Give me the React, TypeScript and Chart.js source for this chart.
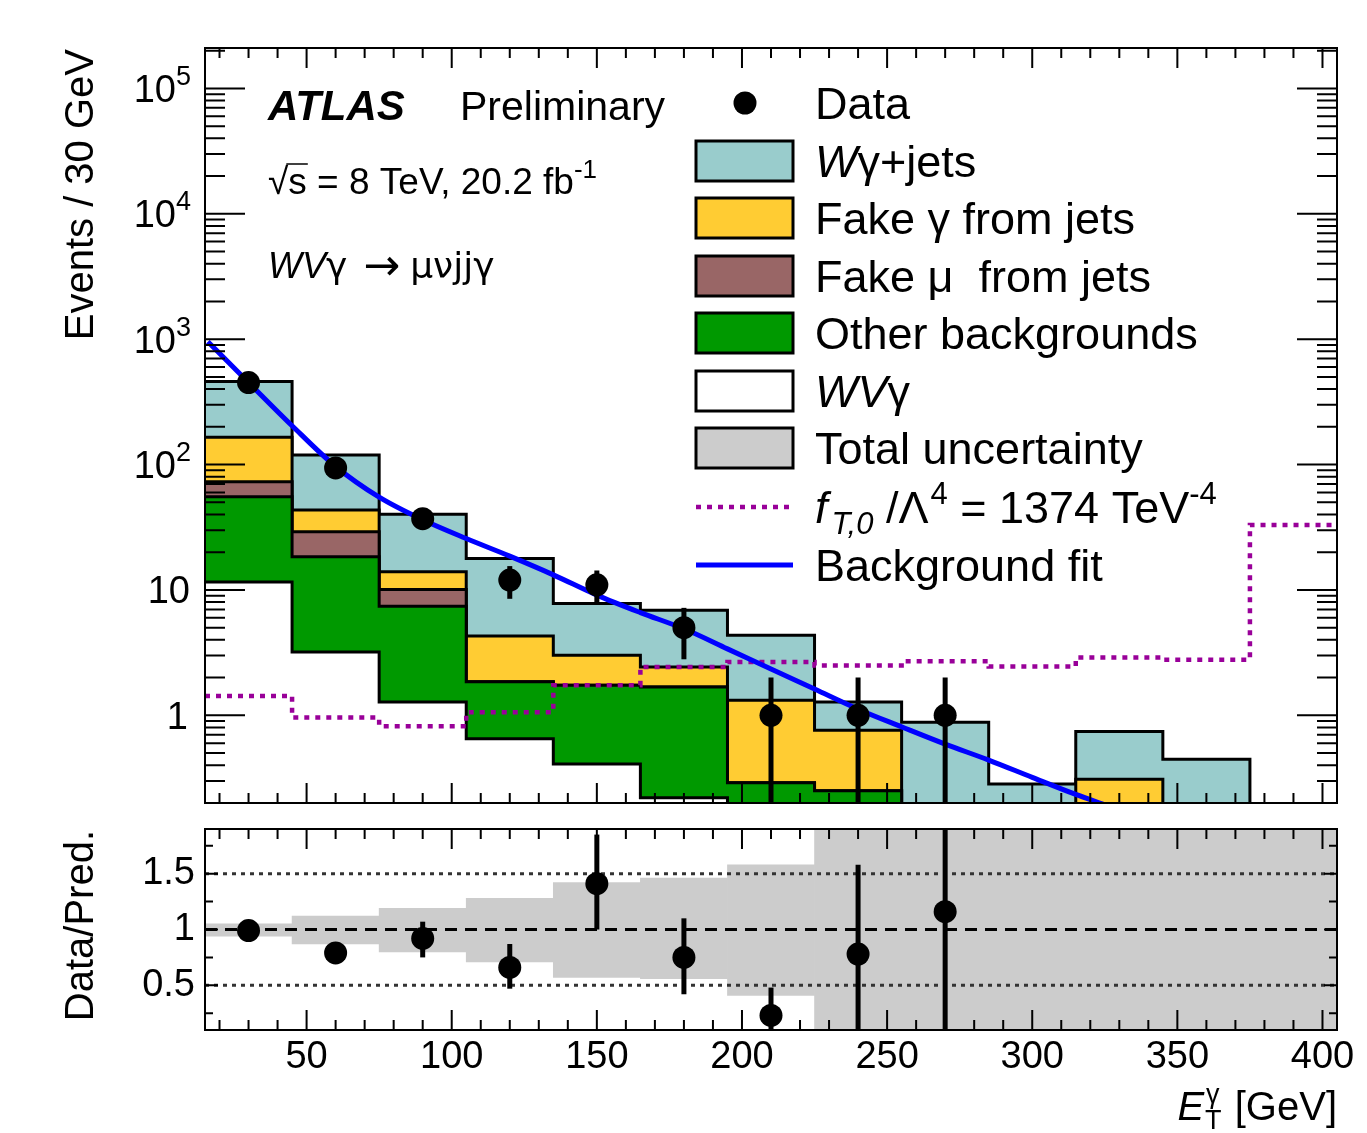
import React, { useEffect, useRef } from "react";
import { Chart, registerables } from "chart.js";

Chart.register(...registerables);

const FONT = '"Liberation Sans", Arial, Helvetica, sans-serif';
const SYM = '"DejaVu Sans", "Liberation Sans", sans-serif';

// ---------------- data ----------------
const binEdges = [15, 45, 75, 105, 135, 165, 195, 225, 255, 285, 315, 345, 375, 405];
const wvgammaSM = [11.6, 3.2, 1.28, 0.65, 0.41, 0.22, 0.1, 0.08, 0.05, 0.03, 0.02, 0.01, 0];
const otherBkg = [43.8, 15.2, 6.15, 1.2, 1.33, 1.46, 0.19, 0.17, 0.1, 0.05, 0.05, 0.03, 0];
const fakeMuJets = [17.6, 10.7, 2.67, 0, 0, 0, 0, 0, 0, 0, 0, 0, 0];
const fakeGammaJets = [92, 14.3, 3.9, 2.45, 1.27, 0.75, 1.03, 0.51, 0.03, 0.05, 0.24, 0.05, 0];
const wgammaJets = [294, 75.6, 26.1, 13.5, 4.8, 4.47, 3.04, 0.52, 0.7, 0.154, 0.435, 0.356, 0];
const aqgcFT0 = [1.43, 0.96, 0.82, 1.06, 1.74, 2.43, 2.67, 2.5, 2.7, 2.45, 2.89, 2.78, 33];

const dataEt = [30, 60, 90, 120, 150, 180, 210, 240, 270];
const dataEvents = [451, 94, 37, 12, 11, 5, 1, 1, 1];
const dataErr = [21.2, 9.7, 6.1, 3.5, 3.3, 2.2, 1, 1, 1];

const fitEt = [16, 30, 45, 60, 75, 90, 105, 120, 135, 150, 165, 180, 195, 210, 225, 240, 255, 270, 285, 300, 315, 327];
const fitEvents = [955, 452, 204, 96.6, 55, 36.3, 25.7, 18.6, 13.2, 9.1, 6.6, 4.9, 3.39, 2.34, 1.62, 1.12, 0.81, 0.59, 0.44, 0.32, 0.234, 0.186];

const ratioVal = [0.99, 0.79, 0.92, 0.66, 1.41, 0.75, 0.23, 0.78, 1.16];
const ratioErrUp = [0.05, 0.08, 0.15, 0.21, 0.44, 0.35, 0.25, 0.8, 1.16];
const ratioErrDown = [0.05, 0.08, 0.17, 0.19, 0.41, 0.33, 0.23, 0.78, 1.16];
const uncHigh = [1.05, 1.12, 1.19, 1.28, 1.42, 1.46, 1.58, 2, 2, 2, 2, 2, 2];
const uncLow = [0.94, 0.87, 0.8, 0.71, 0.57, 0.56, 0.41, 0, 0, 0, 0, 0, 0];

const xTickLabels = [50, 100, 150, 200, 250, 300, 350, 400];
const yDecadeExps = [0, 1, 2, 3, 4, 5];
const ratioTickLabels = [0.5, 1, 1.5];

const COLORS = {
  wgamma: "#99cccc",
  fakeGamma: "#ffcc33",
  fakeMu: "#996666",
  other: "#009900",
  wvgamma: "#ffffff",
  unc: "#cccccc",
  aqgc: "#990099",
  fit: "#0000ff",
};

// ---------------- helpers ----------------
function cumulative(...layers: number[][]) {
  return layers[0].map((_, i) => layers.reduce((s, l) => s + l[i], 0));
}
// points at lower bin edges plus the last upper edge; with stepped "before"
// the horizontal segment [edge_i, edge_i+1] is drawn at bin i's value
function stepPoints(values: number[]) {
  const pts = values.map((v, i) => ({ x: binEdges[i], y: Math.max(v, 1e-3) }));
  pts.push({ x: binEdges[binEdges.length - 1], y: Math.max(values[values.length - 1], 1e-3) });
  return pts;
}
function binCenters() {
  return binEdges.slice(0, -1).map((e, i) => (e + binEdges[i + 1]) / 2);
}

type Part = { t: string; size: number; style?: string; family?: string; dy?: number; dx?: number; noAdvance?: boolean };
function fontOf(p: Part) {
  return `${p.style ?? ""} ${p.size}px ${p.family ?? FONT}`.trim();
}
function drawRich(ctx: CanvasRenderingContext2D, x: number, y: number, parts: Part[], align: "left" | "right" = "left") {
  ctx.textBaseline = "alphabetic";
  ctx.textAlign = "left";
  const widths = parts.map((p) => {
    ctx.font = fontOf(p);
    return ctx.measureText(p.t).width;
  });
  const total = parts.reduce((s, p, i) => s + (p.dx ?? 0) + (p.noAdvance ? 0 : widths[i]), 0);
  let cx = align === "right" ? x - total : x;
  parts.forEach((p, i) => {
    cx += p.dx ?? 0;
    ctx.font = fontOf(p);
    ctx.fillText(p.t, cx, y + (p.dy ?? 0));
    if (!p.noAdvance) cx += widths[i];
  });
  return cx;
}
function clipArea(ctx: CanvasRenderingContext2D, a: any) {
  ctx.beginPath();
  ctx.rect(a.left, a.top, a.right - a.left, a.bottom - a.top);
  ctx.clip();
}
function drawXTicks(ctx: CanvasRenderingContext2D, xs: any, a: any) {
  for (let v = 20; v <= 400; v += 10) {
    const px = xs.getPixelForValue(v);
    const len = v % 50 === 0 ? 20 : 10;
    ctx.moveTo(px, a.bottom);
    ctx.lineTo(px, a.bottom - len);
    ctx.moveTo(px, a.top);
    ctx.lineTo(px, a.top + len);
  }
}

// ---------------- top panel plugin ----------------
const topPlugin = {
  id: "topDecor",
  afterDatasetsDraw(chart: any) {
    const { ctx, chartArea: a } = chart;
    const xs = chart.scales.x;
    const ys = chart.scales.y;
    ctx.save();
    // error bars
    ctx.save();
    clipArea(ctx, a);
    ctx.strokeStyle = "#000";
    ctx.lineWidth = 5;
    dataEt.forEach((xv, i) => {
      const px = xs.getPixelForValue(xv);
      const lo = dataEvents[i] - dataErr[i];
      const y1 = ys.getPixelForValue(dataEvents[i] + dataErr[i]);
      const y2 = lo > 0 ? ys.getPixelForValue(lo) : a.bottom + 5;
      ctx.beginPath();
      ctx.moveTo(px, y1);
      ctx.lineTo(px, y2);
      ctx.stroke();
    });
    ctx.restore();

    // ticks
    ctx.strokeStyle = "#000";
    ctx.lineWidth = 2;
    ctx.beginPath();
    for (let e = -1; e <= 5; e++) {
      for (let m = 1; m <= 9; m++) {
        const v = m * Math.pow(10, e);
        if (v < ys.min || v > ys.max) continue;
        const py = ys.getPixelForValue(v);
        const len = m === 1 ? 40 : 20;
        ctx.moveTo(a.left, py);
        ctx.lineTo(a.left + len, py);
        ctx.moveTo(a.right, py);
        ctx.lineTo(a.right - len, py);
      }
    }
    drawXTicks(ctx, xs, a);
    ctx.stroke();
    ctx.lineWidth = 2;
    ctx.strokeRect(a.left, a.top, a.right - a.left, a.bottom - a.top);

    // y tick labels
    ctx.fillStyle = "#000";
    yDecadeExps.forEach((k) => {
      const py = ys.getPixelForValue(Math.pow(10, k));
      if (k === 0) drawRich(ctx, 188, py + 13.5, [{ t: "1", size: 38 }], "right");
      else if (k === 1) drawRich(ctx, 190, py + 13.5, [{ t: "10", size: 38 }], "right");
      else drawRich(ctx, 191, py + 13.5, [{ t: "10", size: 38 }, { t: String(k), size: 27, dy: -17 }], "right");
    });

    // y title
    ctx.save();
    ctx.translate(93, a.top + 1);
    ctx.rotate(-Math.PI / 2);
    ctx.font = `40px ${FONT}`;
    ctx.textAlign = "right";
    ctx.textBaseline = "alphabetic";
    ctx.fillText("Events / 30 GeV", 0, 0);
    ctx.restore();

    // ATLAS labels
    drawRich(ctx, 268, 120, [{ t: "ATLAS", size: 42, style: "italic bold" }]);
    drawRich(ctx, 460, 120, [{ t: "Preliminary", size: 41 }]);
    ctx.font = `37px ${FONT}`;
    const wRoot = ctx.measureText("√").width;
    const wS = ctx.measureText("s").width;
    drawRich(ctx, 268, 194, [
      { t: "√", size: 37 },
      { t: "s = 8 TeV, 20.2 fb", size: 37 },
      { t: "-1", size: 26, dy: -16 },
    ]);
    ctx.beginPath();
    ctx.lineWidth = 1.5;
    ctx.moveTo(268 + wRoot - 2, 194 - 30);
    ctx.lineTo(268 + wRoot + wS + 1, 194 - 30);
    ctx.stroke();
    drawRich(ctx, 268, 278, [
      { t: "WV", size: 36, style: "italic" },
      { t: "γ", size: 36, family: SYM },
      { t: "→", size: 44, family: SYM, dx: 16, dy: 2 },
      { t: "μνjjγ", size: 36, family: SYM, dx: 10 },
    ]);

    // legend
    const LX = 696, LW = 97, LH = 40, TX = 815, FS = 45;
    ctx.beginPath();
    ctx.arc(745, 103, 11.5, 0, Math.PI * 2);
    ctx.fill();
    drawRich(ctx, TX, 103 + 16, [{ t: "Data", size: FS }]);
    const boxes: { c: number; color: string; parts: Part[] }[] = [
      { c: 161, color: COLORS.wgamma, parts: [{ t: "W", size: FS, style: "italic" }, { t: "γ+jets", size: FS }] },
      { c: 218, color: COLORS.fakeGamma, parts: [{ t: "Fake γ from jets", size: FS }] },
      { c: 276, color: COLORS.fakeMu, parts: [{ t: "Fake μ  from jets", size: FS }] },
      { c: 333, color: COLORS.other, parts: [{ t: "Other backgrounds", size: FS }] },
      { c: 391, color: COLORS.wvgamma, parts: [{ t: "WV", size: FS, style: "italic" }, { t: "γ", size: FS }] },
      { c: 448, color: COLORS.unc, parts: [{ t: "Total uncertainty", size: FS }] },
    ];
    boxes.forEach((b) => {
      ctx.fillStyle = b.color;
      ctx.fillRect(LX, b.c - LH / 2, LW, LH);
      ctx.strokeStyle = "#000";
      ctx.lineWidth = 3;
      ctx.strokeRect(LX, b.c - LH / 2, LW, LH);
      ctx.fillStyle = "#000";
      drawRich(ctx, TX, b.c + 16, b.parts);
    });
    // dotted aqgc
    ctx.save();
    ctx.strokeStyle = COLORS.aqgc;
    ctx.lineWidth = 4.5;
    ctx.setLineDash([5, 6]);
    ctx.beginPath();
    ctx.moveTo(LX, 507);
    ctx.lineTo(LX + LW, 507);
    ctx.stroke();
    ctx.restore();
    drawRich(ctx, TX, 507 + 16, [
      { t: "f", size: FS, style: "italic" },
      { t: "T,0", size: 31, style: "italic", dy: 11, dx: 4 },
      { t: " /Λ", size: FS },
      { t: "4", size: 31, dy: -19, dx: 2 },
      { t: " = 1374 TeV", size: FS },
      { t: "-4", size: 31, dy: -19 },
    ]);
    // fit line
    ctx.strokeStyle = COLORS.fit;
    ctx.lineWidth = 5;
    ctx.beginPath();
    ctx.moveTo(LX, 565);
    ctx.lineTo(LX + LW, 565);
    ctx.stroke();
    drawRich(ctx, TX, 565 + 16, [{ t: "Background fit", size: FS }]);
    ctx.restore();
  },
};

// ---------------- ratio panel plugin ----------------
const bottomPlugin = {
  id: "ratioDecor",
  afterDatasetsDraw(chart: any) {
    const { ctx, chartArea: a } = chart;
    const xs = chart.scales.x;
    const ys = chart.scales.y;
    ctx.save();
    ctx.save();
    clipArea(ctx, a);
    ctx.strokeStyle = "#000";
    ctx.lineWidth = 5;
    dataEt.forEach((xv, i) => {
      const px = xs.getPixelForValue(xv);
      ctx.beginPath();
      ctx.moveTo(px, ys.getPixelForValue(ratioVal[i] + ratioErrUp[i]));
      ctx.lineTo(px, ys.getPixelForValue(ratioVal[i] - ratioErrDown[i]));
      ctx.stroke();
    });
    ctx.restore();

    ctx.strokeStyle = "#000";
    ctx.lineWidth = 2;
    ctx.beginPath();
    for (let q = 1; q <= 7; q++) {
      const v = q * 0.25;
      const py = ys.getPixelForValue(v);
      const len = q % 2 === 0 ? 13 : 8;
      ctx.moveTo(a.left, py);
      ctx.lineTo(a.left + len, py);
      ctx.moveTo(a.right, py);
      ctx.lineTo(a.right - len, py);
    }
    drawXTicks(ctx, xs, a);
    ctx.stroke();
    ctx.strokeRect(a.left, a.top, a.right - a.left, a.bottom - a.top);

    ctx.fillStyle = "#000";
    ctx.save();
    ctx.translate(93, a.top + 1);
    ctx.rotate(-Math.PI / 2);
    ctx.font = `40px ${FONT}`;
    ctx.textAlign = "right";
    ctx.textBaseline = "alphabetic";
    ctx.fillText("Data/Pred.", 0, 0);
    ctx.restore();

    drawRich(
      ctx,
      a.right,
      1120,
      [
        { t: "E", size: 40, style: "italic" },
        { t: "T", size: 27, dy: 9, dx: 1, noAdvance: true },
        { t: "γ", size: 27, dy: -17, dx: 1 },
        { t: " [GeV]", size: 40, dx: 4 },
      ],
      "right"
    );
    ctx.restore();
  },
};

function histDs(label: string, vals: number[], color: string, order: number) {
  return {
    type: "line",
    label,
    data: stepPoints(vals),
    stepped: "before",
    fill: "start",
    backgroundColor: color,
    borderColor: "#000",
    borderWidth: 3,
    borderJoinStyle: "miter",
    pointRadius: 0,
    order,
  };
}

export default function App() {
  const topRef = useRef<HTMLCanvasElement>(null);
  const botRef = useRef<HTMLCanvasElement>(null);

  useEffect(() => {
    document.body.style.margin = "0";
    document.body.style.overflow = "hidden";

    const cumWV = wvgammaSM;
    const cumOther = cumulative(wvgammaSM, otherBkg);
    const cumMu = cumulative(wvgammaSM, otherBkg, fakeMuJets);
    const cumGam = cumulative(wvgammaSM, otherBkg, fakeMuJets, fakeGammaJets);
    const cumTot = cumulative(wvgammaSM, otherBkg, fakeMuJets, fakeGammaJets, wgammaJets);

    const top = new Chart(topRef.current as HTMLCanvasElement, {
      type: "line",
      data: {
        datasets: [
          histDs("Wγ+jets", cumTot, COLORS.wgamma, 10),
          histDs("Fake γ from jets", cumGam, COLORS.fakeGamma, 9),
          histDs("Fake μ from jets", cumMu, COLORS.fakeMu, 8),
          histDs("Other backgrounds", cumOther, COLORS.other, 7),
          histDs("WVγ", cumWV, COLORS.wvgamma, 6),
          {
            type: "line",
            label: "fT0",
            data: stepPoints(aqgcFT0),
            stepped: "before",
            fill: false,
            borderColor: COLORS.aqgc,
            borderWidth: 4.5,
            borderDash: [5, 6],
            pointRadius: 0,
            order: 5,
          },
          {
            type: "line",
            label: "Background fit",
            data: fitEt.map((x, i) => ({ x, y: fitEvents[i] })),
            borderColor: COLORS.fit,
            borderWidth: 5,
            cubicInterpolationMode: "monotone",
            fill: false,
            pointRadius: 0,
            order: 4,
          },
          {
            type: "line",
            label: "Data",
            data: dataEt.map((x, i) => ({ x, y: dataEvents[i] })),
            showLine: false,
            pointRadius: 11.5,
            pointBackgroundColor: "#000",
            pointBorderWidth: 0,
            order: 1,
          },
        ] as any,
      },
      options: {
        responsive: false,
        animation: false,
        devicePixelRatio: 1,
        events: [],
        layout: { padding: { top: 48, right: 30, left: 0, bottom: 0 } },
        plugins: { legend: { display: false }, tooltip: { enabled: false } },
        scales: {
          x: {
            type: "linear",
            min: binEdges[0],
            max: binEdges[binEdges.length - 1],
            offset: false,
            grid: { display: false, drawTicks: false },
            border: { display: false },
            ticks: { display: false },
            afterFit: (s: any) => {
              s.height = 1133 - 803;
            },
          },
          y: {
            type: "logarithmic",
            min: 0.2,
            max: 2.1e5,
            grid: { display: false, drawTicks: false },
            border: { display: false },
            ticks: { display: false },
            afterFit: (s: any) => {
              s.width = 205;
            },
          },
        },
      } as any,
      plugins: [topPlugin],
    });

    const centers = binCenters();
    const bot = new Chart(botRef.current as HTMLCanvasElement, {
      type: "line",
      data: {
        datasets: [
          {
            type: "bar",
            label: "Total uncertainty",
            data: centers.map((x, i) => ({ x, y: [uncLow[i], uncHigh[i]] })),
            backgroundColor: COLORS.unc,
            borderWidth: 0,
            barPercentage: 1,
            categoryPercentage: 1,
            grouped: false,
            clip: 0,
            order: 5,
          },
          {
            type: "line",
            label: "1.5",
            data: [{ x: binEdges[0], y: 1.5 }, { x: binEdges[binEdges.length - 1], y: 1.5 }],
            borderColor: "#333",
            borderWidth: 3,
            borderDash: [4, 5],
            pointRadius: 0,
            fill: false,
            order: 4,
          },
          {
            type: "line",
            label: "0.5",
            data: [{ x: binEdges[0], y: 0.5 }, { x: binEdges[binEdges.length - 1], y: 0.5 }],
            borderColor: "#333",
            borderWidth: 3,
            borderDash: [4, 5],
            pointRadius: 0,
            fill: false,
            order: 4,
          },
          {
            type: "line",
            label: "1",
            data: [{ x: binEdges[0], y: 1 }, { x: binEdges[binEdges.length - 1], y: 1 }],
            borderColor: "#000",
            borderWidth: 3,
            borderDash: [12, 8],
            pointRadius: 0,
            fill: false,
            order: 3,
          },
          {
            type: "line",
            label: "Data/Pred.",
            data: dataEt.map((x, i) => ({ x, y: ratioVal[i] })),
            showLine: false,
            pointRadius: 11.5,
            pointBackgroundColor: "#000",
            pointBorderWidth: 0,
            order: 1,
          },
        ] as any,
      },
      options: {
        responsive: false,
        animation: false,
        devicePixelRatio: 1,
        events: [],
        layout: { padding: { top: 829, right: 30, left: 0, bottom: 0 } },
        plugins: { legend: { display: false }, tooltip: { enabled: false } },
        scales: {
          x: {
            type: "linear",
            min: binEdges[0],
            max: binEdges[binEdges.length - 1],
            offset: false,
            grid: { display: false, drawTicks: false },
            border: { display: false },
            afterBuildTicks: (s: any) => {
              s.ticks = xTickLabels.map((v) => ({ value: v }));
            },
            ticks: {
              autoSkip: false,
              maxRotation: 0,
              minRotation: 0,
              padding: 5,
              color: "#000",
              font: { family: FONT, size: 38 },
              callback: (v: any) => String(v),
            },
            afterFit: (s: any) => {
              s.height = 1133 - 1030;
            },
          },
          y: {
            type: "linear",
            min: 0.1,
            max: 1.9,
            grid: { display: false, drawTicks: false },
            border: { display: false },
            afterBuildTicks: (s: any) => {
              s.ticks = ratioTickLabels.map((v) => ({ value: v }));
            },
            ticks: {
              autoSkip: false,
              padding: 10,
              color: "#000",
              font: { family: FONT, size: 38 },
              callback: (v: any) => String(v),
            },
            afterFit: (s: any) => {
              s.width = 205;
            },
          },
        },
      } as any,
      plugins: [bottomPlugin],
    });

    return () => {
      top.destroy();
      bot.destroy();
    };
  }, []);

  return (
    <div style={{ position: "relative", width: 1367, height: 1133, background: "#fff" }}>
      <canvas ref={topRef} width={1367} height={1133} style={{ position: "absolute", left: 0, top: 0 }} />
      <canvas ref={botRef} width={1367} height={1133} style={{ position: "absolute", left: 0, top: 0 }} />
    </div>
  );
}
